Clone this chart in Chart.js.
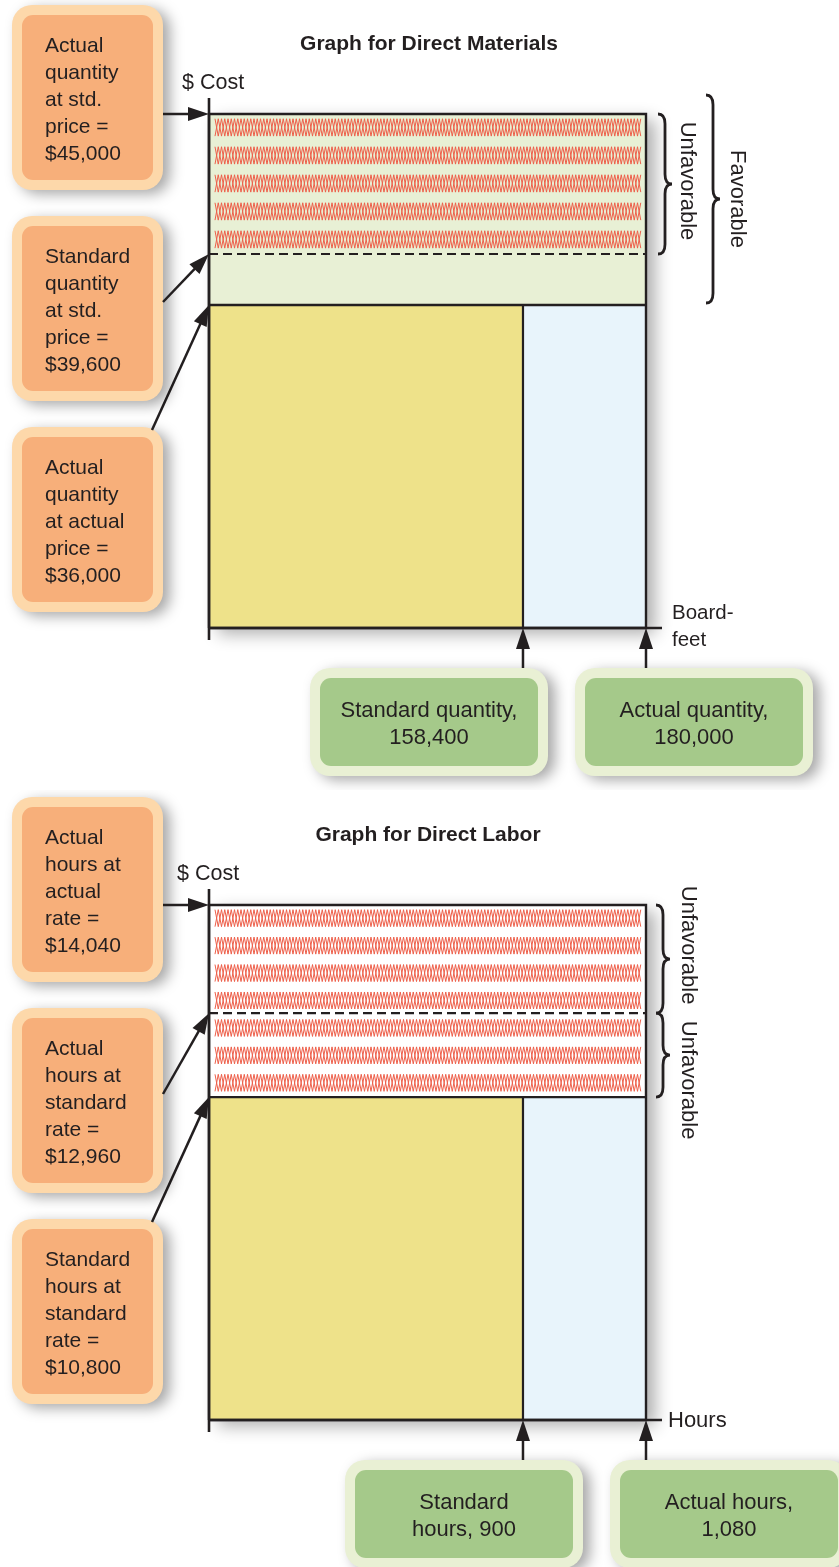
<!DOCTYPE html>
<html>
<head>
<meta charset="utf-8">
<script src="https://cdn.jsdelivr.net/npm/chart.js@4.4.1/dist/chart.umd.min.js"></script>
<style>
  html, body { margin: 0; padding: 0; background: #fff; }
  #wrap { position: relative; width: 839px; height: 1567px; overflow: hidden; }
  canvas { position: absolute; left: 0; }
</style>
</head>
<body>
<div id="wrap">
  <canvas id="materials" width="839" height="790" style="top:0"></canvas>
  <canvas id="labor" width="839" height="777" style="top:790px"></canvas>
</div>
<script>
"use strict";
// ---- data: direct materials ----
const MAT_TITLE = "Graph for Direct Materials";
const MAT_LEVELS = [36000, 39600, 45000]; // $ cost levels, low to high
const MAT_LEVEL_TEXT = [
  ["Actual", "quantity", "at actual", "price =", "$36,000"],
  ["Standard", "quantity", "at std.", "price =", "$39,600"],
  ["Actual", "quantity", "at std.", "price =", "$45,000"],
];
const MAT_QTY = [158400, 180000]; // board-feet: standard, actual
const MAT_QTY_TEXT = [["Standard quantity,", "158,400"], ["Actual quantity,", "180,000"]];
const MAT_UNIT = ["Board-", "feet"];
const MAT_VARIANCE = ["Unfavorable", "Favorable"];

// ---- data: direct labor ----
const LAB_TITLE = "Graph for Direct Labor";
const LAB_LEVELS = [10800, 12960, 14040];
const LAB_LEVEL_TEXT = [
  ["Standard", "hours at", "standard", "rate =", "$10,800"],
  ["Actual", "hours at", "standard", "rate =", "$12,960"],
  ["Actual", "hours at", "actual", "rate =", "$14,040"],
];
const LAB_QTY = [900, 1080]; // hours: standard, actual
const LAB_QTY_TEXT = [["Standard", "hours, 900"], ["Actual hours,", "1,080"]];
const LAB_UNIT = ["Hours"];
const LAB_VARIANCE = ["Unfavorable", "Unfavorable"];

const COST_LABEL = "$ Cost";

// ---- styles ----
const FONT = '"Liberation Sans", Arial, Helvetica, sans-serif';
const INK = "#231f20";
const YELLOW = "#eee28a";
const BLUE = "#e8f4fb";
const PALE_GREEN = "#e8f0d5";
const HATCH = "#ee5f4a";
const ORANGE_OUT = "#fdd8aa";
const ORANGE_IN = "#f7af7a";
const GREEN_OUT = "#e9f0d4";
const GREEN_IN = "#a5c98a";

// a linear scale whose value->pixel mapping is piecewise, since the
// textbook figure is schematic rather than drawn to scale
const LinearScale = Chart.LinearScale || Chart.registry.getScale("linear");
class StopScale extends LinearScale {
  static id = "stops";
  static defaults = LinearScale.defaults;
  fracOf(v) {
    const vals = this.options.stopVals, fr = this.options.stopFracs;
    if (v <= vals[0]) return fr[0];
    for (let i = 1; i < vals.length; i++) {
      if (v <= vals[i]) {
        return fr[i - 1] + ((v - vals[i - 1]) / (vals[i] - vals[i - 1])) * (fr[i] - fr[i - 1]);
      }
    }
    return fr[fr.length - 1];
  }
  getPixelForValue(v) {
    return this.getPixelForDecimal(this.fracOf(v));
  }
}
Chart.register(StopScale);

function rr(ctx, x, y, w, h, r) {
  ctx.beginPath();
  ctx.moveTo(x + r, y);
  ctx.arcTo(x + w, y, x + w, y + h, r);
  ctx.arcTo(x + w, y + h, x, y + h, r);
  ctx.arcTo(x, y + h, x, y, r);
  ctx.arcTo(x, y, x + w, y, r);
  ctx.closePath();
}

function box(ctx, x, y, w, h, outer, inner) {
  ctx.save();
  ctx.shadowColor = "rgba(0,0,0,0.35)";
  ctx.shadowBlur = 14;
  ctx.shadowOffsetX = 7;
  ctx.shadowOffsetY = 4;
  rr(ctx, x, y, w, h, 20);
  ctx.fillStyle = outer;
  ctx.fill();
  ctx.restore();
  rr(ctx, x + 10, y + 10, w - 20, h - 20, 11);
  ctx.fillStyle = inner;
  ctx.fill();
}

function arrow(ctx, x0, y0, x1, y1) {
  const a = Math.atan2(y1 - y0, x1 - x0), L = 21, W = 7;
  const bx = x1 - L * Math.cos(a), by = y1 - L * Math.sin(a);
  ctx.lineWidth = 2.5;
  ctx.beginPath();
  ctx.moveTo(x0, y0);
  ctx.lineTo(bx + 2 * Math.cos(a), by + 2 * Math.sin(a));
  ctx.stroke();
  ctx.beginPath();
  ctx.moveTo(x1, y1);
  ctx.lineTo(bx - W * Math.sin(a), by + W * Math.cos(a));
  ctx.lineTo(bx + W * Math.sin(a), by - W * Math.cos(a));
  ctx.closePath();
  ctx.fill();
}

function brace(ctx, x, y0, y1, w) {
  const ym = (y0 + y1) / 2, xm = x + w * 0.5, c = Math.min(w * 0.7, (y1 - y0) / 5);
  ctx.lineWidth = 2.8;
  ctx.beginPath();
  ctx.moveTo(x, y0);
  ctx.quadraticCurveTo(xm, y0, xm, y0 + c);
  ctx.lineTo(xm, ym - c);
  ctx.quadraticCurveTo(xm, ym, x + w, ym);
  ctx.quadraticCurveTo(xm, ym, xm, ym + c);
  ctx.lineTo(xm, y1 - c);
  ctx.quadraticCurveTo(xm, y1, x, y1);
  ctx.stroke();
}

function zigzag(ctx, x0, x1, yA, yB) {
  const n = Math.max(1, Math.round((yB - yA) / 27.5));
  const slot = (yB - yA) / n, half = 3.25;
  ctx.save();
  ctx.strokeStyle = HATCH;
  ctx.lineWidth = 1;
  for (let r = 0; r < n; r++) {
    const t = yA + r * slot + slot * 0.17, b = yA + r * slot + slot * 0.79;
    for (let ph = 0; ph < 2; ph++) {
      ctx.beginPath();
      let k = 0;
      for (let x = x0; x <= x1; x += half, k++) {
        const yy = (k + ph) % 2 ? b : t;
        if (k === 0) ctx.moveTo(x, yy); else ctx.lineTo(x, yy);
      }
      ctx.stroke();
    }
  }
  ctx.restore();
}

function diagramPlugin(s) {
  return {
    id: "diagram",
    beforeDatasetsDraw(chart) {
      const { x, y } = chart.scales, ctx = chart.ctx;
      const l = x.getPixelForValue(0), r = x.getPixelForValue(s.qty[1]);
      const t = y.getPixelForValue(s.levels[2]), b = y.getPixelForValue(0);
      ctx.save();
      ctx.shadowColor = "rgba(0,0,0,0.32)";
      ctx.shadowBlur = 16;
      ctx.shadowOffsetX = 9;
      ctx.shadowOffsetY = 6;
      ctx.fillStyle = "#fff";
      ctx.fillRect(l, t, r - l, b - t);
      ctx.restore();
    },
    afterDatasetDraw(chart, args) {
      const ds = chart.data.datasets[args.index];
      if (!ds.hatchFrom) return;
      const { x, y } = chart.scales;
      zigzag(chart.ctx, x.getPixelForValue(0) + 6, x.getPixelForValue(s.qty[1]) - 5,
        y.getPixelForValue(s.levels[2]), y.getPixelForValue(ds.hatchFrom));
    },
    afterDraw(chart) {
      const { x, y } = chart.scales, ctx = chart.ctx;
      const ax = x.getPixelForValue(0), ay = y.getPixelForValue(0);
      const xEnd = x.getPixelForValue(s.qty[1]);
      const yTop = y.getPixelForValue(s.levels[2]);
      ctx.save();
      ctx.strokeStyle = INK;
      ctx.fillStyle = INK;
      ctx.lineCap = "butt";
      // axes
      ctx.lineWidth = 2.6;
      ctx.beginPath();
      ctx.moveTo(ax, yTop - 16);
      ctx.lineTo(ax, ay + 12);
      ctx.moveTo(ax, ay);
      ctx.lineTo(xEnd + 16, ay);
      ctx.stroke();

      // titles and axis words
      ctx.textBaseline = "middle";
      ctx.textAlign = "center";
      ctx.font = "bold 21px " + FONT;
      ctx.fillText(s.title, s.titleX, s.titleY);
      ctx.font = "21.5px " + FONT;
      ctx.textAlign = "left";
      ctx.fillText(COST_LABEL, s.costX, s.costY);
      ctx.font = s.unitFont + "px " + FONT;
      s.unit.forEach((w, i) => ctx.fillText(w, xEnd + s.unitDx, ay + s.unitDy + i * 27));

      // left cost boxes with arrows to the cost levels
      s.levelText.forEach((lines, i) => {
        const top = s.boxTops[i];
        box(ctx, 12, top, 151, 185, ORANGE_OUT, ORANGE_IN);
        ctx.fillStyle = INK;
        ctx.font = "21px " + FONT;
        ctx.textAlign = "left";
        lines.forEach((t, j) => ctx.fillText(t, 45, top + 41 + j * 27));
        const ly = y.getPixelForValue(s.levels[i]);
        if (i === 2) arrow(ctx, 163, ly, ax, ly);
        else if (i === 1) arrow(ctx, 163, top + 86, ax, ly);
        else arrow(ctx, 152, top + 3, ax, ly);
      });

      // quantity boxes below with arrows to the axis
      s.qtyText.forEach((lines, i) => {
        const qx = x.getPixelForValue(s.qty[i]);
        const top = ay + 40;
        box(ctx, s.qtyCx[i] - 119, top, 238, 108, GREEN_OUT, GREEN_IN);
        ctx.fillStyle = INK;
        ctx.font = "22px " + FONT;
        ctx.textAlign = "center";
        lines.forEach((t, j) => ctx.fillText(t, s.qtyCx[i], top + 43 + j * 27));
        arrow(ctx, qx, top, qx, ay);
      });

      // variance braces
      s.braces.forEach((br, i) => {
        const y0 = y.getPixelForValue(s.levels[br.to]) - (br.extTop || 0);
        const y1 = y.getPixelForValue(s.levels[br.from]) - (br.extBot || 0);
        ctx.strokeStyle = INK;
        brace(ctx, br.x, y0, y1, 14);
        ctx.save();
        ctx.translate(br.tx, (y0 + y1) / 2 + br.tdy);
        ctx.rotate(Math.PI / 2);
        ctx.font = "22px " + FONT;
        ctx.textAlign = "center";
        ctx.textBaseline = "middle";
        ctx.fillStyle = INK;
        ctx.fillText(s.variance[i], 0, 0);
        ctx.restore();
      });
      ctx.restore();
    },
  };
}

function buildChart(id, s) {
  const [l0, l1, l2] = s.levels, [q0, q1] = s.qty;
  const area = (pts, base, color, extra) => Object.assign({
    data: pts, fill: { value: base }, backgroundColor: color,
    borderWidth: 0, pointRadius: 0, order: 5, clip: false,
  }, extra || {});
  const rule = (pts, width, dash) => ({
    data: pts, fill: false, borderColor: INK, borderWidth: width,
    borderDash: dash || [], pointRadius: 0, order: 1, clip: false,
  });
  return new Chart(document.getElementById(id), {
    type: "line",
    data: {
      datasets: [
        area([{ x: 0, y: l0 }, { x: q0, y: l0 }], 0, YELLOW),
        area([{ x: q0, y: l0 }, { x: q1, y: l0 }], 0, BLUE),
        area([{ x: 0, y: l2 }, { x: q1, y: l2 }], l0, s.bandColor, { hatchFrom: s.levels[s.hatchFrom] }),
        rule([{ x: 0, y: l1 }, { x: q1, y: l1 }], 2.2, [9, 5]),
        rule([{ x: 0, y: l0 }, { x: q1, y: l0 }], 2.4),
        rule([{ x: q0, y: 0 }, { x: q0, y: l0 }], 2.2),
        rule([{ x: 0, y: 0 }, { x: q1, y: 0 }, { x: q1, y: l2 }, { x: 0, y: l2 }, { x: 0, y: 0 }], 2.4),
      ],
    },
    options: {
      responsive: false,
      animation: false,
      events: [],
      layout: { padding: s.padding },
      elements: { line: { tension: 0 } },
      plugins: { legend: { display: false }, tooltip: { enabled: false }, title: { display: false } },
      scales: {
        x: { type: "stops", display: false, min: 0, max: q1, stopVals: [0, q0, q1], stopFracs: [0, 0.7185, 1] },
        y: { type: "stops", display: false, min: 0, max: l2, stopVals: [0, l0, l1, l2], stopFracs: [0, s.yFr[0], s.yFr[1], 1] },
      },
    },
    plugins: [diagramPlugin(s)],
  });
}

buildChart("materials", {
  title: MAT_TITLE, titleX: 429, titleY: 44,
  costX: 182, costY: 83,
  levels: MAT_LEVELS, levelText: MAT_LEVEL_TEXT,
  qty: MAT_QTY, qtyText: MAT_QTY_TEXT, qtyCx: [429, 694],
  unit: MAT_UNIT, unitDx: 26, unitDy: -15, unitFont: 20.5,
  variance: MAT_VARIANCE,
  padding: { left: 209, right: 193, top: 114, bottom: 162 },
  yFr: [0.6284, 0.7276],
  boxTops: [427, 216, 5],
  bandColor: PALE_GREEN, hatchFrom: 1,
  braces: [
    { from: 1, to: 2, x: 658, tx: 687, tdy: -3 },
    { from: 0, to: 2, x: 706, tx: 737, tdy: 0, extTop: 19, extBot: 2 },
  ],
});

buildChart("labor", {
  title: LAB_TITLE, titleX: 428, titleY: 45,
  costX: 177, costY: 84,
  levels: LAB_LEVELS, levelText: LAB_LEVEL_TEXT,
  qty: LAB_QTY, qtyText: LAB_QTY_TEXT, qtyCx: [464, 729],
  unit: LAB_UNIT, unitDx: 22, unitDy: 1, unitFont: 22,
  variance: LAB_VARIANCE,
  padding: { left: 209, right: 193, top: 115, bottom: 147 },
  yFr: [0.627, 0.790],
  boxTops: [429, 218, 7],
  bandColor: "#ffffff", hatchFrom: 0,
  braces: [
    { from: 1, to: 2, x: 656, tx: 688, tdy: -14 },
    { from: 0, to: 1, x: 656, tx: 688, tdy: 25 },
  ],
});
</script>
</body>
</html>
